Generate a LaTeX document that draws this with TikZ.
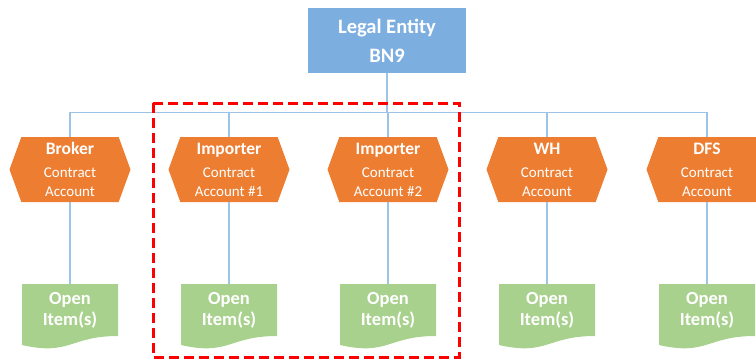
\documentclass[tikz,border=0pt]{standalone}
\usepackage{fontspec}
\setmainfont{Carlito}
\usepackage{tikz}
\usetikzlibrary{calc}
\usetikzlibrary{shapes.symbols}
\usetikzlibrary{positioning}

\definecolor{entityblue}{RGB}{125,174,224}
\definecolor{accorange}{HTML}{ED7D31}
\definecolor{itemgreen}{HTML}{A9D18E}
\definecolor{linkblue}{HTML}{9DC3E6}

\begin{document}
\begin{tikzpicture}[x=1pt,y=-1pt,
    entity/.style={rectangle,fill=entityblue,text=white,inner sep=0pt,align=center,
      minimum width=158pt,minimum height=65pt,font=\bfseries\fontsize{20.5}{29}\selectfont},
    account/.style={signal,signal to=east and west,signal pointer angle=140,fill=accorange,
      text=white,inner sep=0pt,align=center,minimum width=121pt,minimum height=65pt,
      font=\fontsize{15}{19}\selectfont},
    item/.style={rectangle,inner sep=0pt,text=white,align=center,
      minimum width=96pt,minimum height=52pt,font=\bfseries\fontsize{18.5}{21}\selectfont},
    link/.style={draw=linkblue,line width=1.2pt},
    group/.style={draw=red,line width=3pt,dash pattern=on 10pt off 5pt}]
  \useasboundingbox (0,0) rectangle (756,360);

  \node[entity] (legal) at (387,40.5) {Legal Entity\\BN9};
  \coordinate (bus) at (0,112.7);

  % contract accounts and their open items
  \foreach \i/\x/\t/\s in {1/70/Broker/Account,2/229/Importer/Account \#1,
      3/388/Importer/Account \#2,4/547/WH/Account,5/707/DFS/Account} {
    \node[account] (acc\i) at (\x,169.5)
      {{\bfseries\fontsize{17.5}{19}\selectfont\t}\\[4pt]Contract\\\s};
    \fill[itemgreen] (\x-48,284) -- (\x+48,284) -- ++(0,52)
      .. controls +(-48,0) and +(48,11) .. (\x-48,345) -- cycle;
    \node[item] (item\i) at (\x,310) {Open\\Item(s)};
  }

  \foreach \i in {1,...,5} {
    \draw[link] (legal.south) -- (legal.south |- bus) -| (acc\i.north);
    \draw[link] (acc\i.south) -- (item\i.north);
  }

  \draw[group] (153,103) rectangle (459,357);
\end{tikzpicture}
\end{document}
